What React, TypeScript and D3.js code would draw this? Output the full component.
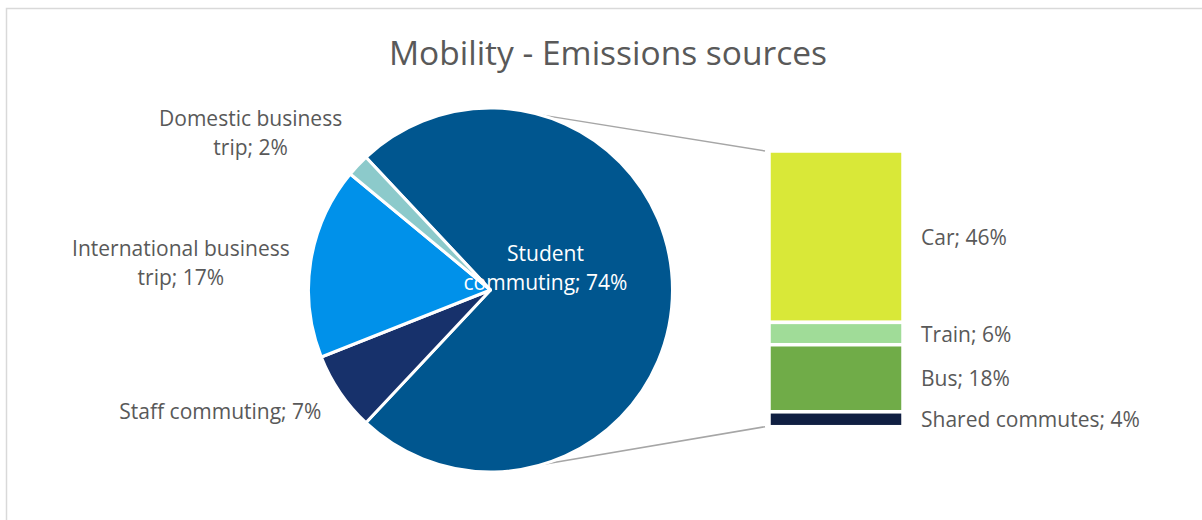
import React from "react";
import * as d3 from "d3";

// ---- data ----
const pieCategories = ["Student commuting", "Staff commuting", "International business trip", "Domestic business trip"];
const pieValues = [74, 7, 17, 2];
const pieColors = ["#00568F", "#17316B", "#0091EA", "#8CCACB"];

const barCategories = ["Car", "Train", "Bus", "Shared commutes"];
const barValues = [46, 6, 18, 4];
const barColors = ["#D9E838", "#A0DC98", "#70AC48", "#101F42"];

const title = "Mobility - Emissions sources";

// label line splits (text layout)
const pieLabelLines = [
  ["Student", "commuting; 74%"],
  ["Staff commuting; 7%"],
  ["International business", "trip; 17%"],
  ["Domestic business", "trip; 2%"],
];

// ---- layout ----
const W = 1202;
const H = 520;
const cx = 490.5;
const cy = 290;
const R = 182;
const barX0 = 769;
const barX1 = 903;
const barTop = 151;
const barBottom = 426.7;
const FONT = "'Open Sans', sans-serif";
const TEXT = "#595959";
const LINE_H = 29;
// offsets of outside labels relative to their anchor on an outer ring
const labelOffsets = [
  [55, 0],
  [-108, 19],
  [-116, 26],
  [-97, -1],
];
const connectorAngles = [15.5, 163.5]; // degrees clockwise from top

export default function App() {
  const total = d3.sum(pieValues);
  const studentShare = pieValues[0] / total;
  const start = Math.PI / 2 - studentShare * Math.PI;
  const pie = d3
    .pie<number>()
    .sort(null)
    .value((d) => d)
    .startAngle(start)
    .endAngle(start + 2 * Math.PI);
  const arcs = pie(pieValues);
  const arc = d3.arc<d3.PieArcDatum<number>>().innerRadius(0).outerRadius(R);

  const y = d3.scaleLinear().domain([0, d3.sum(barValues)]).range([barTop, barBottom]);
  let cum = 0;
  const segs = barValues.map((v, i) => {
    const s = { i, y0: y(cum), y1: y(cum + v) };
    cum += v;
    return s;
  });

  const pt = (deg: number, r: number) => {
    const a = (deg * Math.PI) / 180;
    return [cx + r * Math.sin(a), cy - r * Math.cos(a)];
  };

  const conn = [
    [pt(connectorAngles[0], R), [barX0 - 4, barTop]],
    [pt(connectorAngles[1], R), [barX0 - 4, barBottom]],
  ];

  return (
    <svg
      width={W}
      height={H}
      style={{ position: "absolute", left: 0, top: 0, background: "#fff" }}
      fontFamily={FONT}
    >
      <rect x={6.5} y={8.5} width={W + 10} height={H + 10} fill="#fff" stroke="#D9D9D9" strokeWidth={1.5} />
      <text x={608} y={65} textAnchor="middle" fontSize={33.5} fill={TEXT}>
        {title}
      </text>

      {conn.map((c, i) => (
        <line key={i} x1={c[0][0]} y1={c[0][1]} x2={c[1][0]} y2={c[1][1]} stroke="#A6A6A6" strokeWidth={1.5} />
      ))}

      <g transform={`translate(${cx},${cy})`}>
        {arcs.map((a, i) => (
          <path key={i} d={arc(a) || ""} fill={pieColors[i]} stroke="#fff" strokeWidth={3} strokeLinejoin="round" />
        ))}
      </g>

      {arcs.map((a, i) => {
        const mid = (a.startAngle + a.endAngle) / 2;
        const ringR = i === 0 ? 0 : R + 14;
        const ax = cx + ringR * Math.sin(mid) + labelOffsets[i][0];
        const ay = cy - ringR * Math.cos(mid) + labelOffsets[i][1];
        const lines = pieLabelLines[i];
        return (
          <text
            key={"l" + i}
            x={ax}
            y={ay}
            textAnchor="middle"
            fontSize={21}
            fill={i === 0 ? "#fff" : TEXT}
          >
            {lines.map((ln, j) => (
              <tspan key={j} x={ax} y={ay - (lines.length - 1 - j) * LINE_H}>
                {ln}
              </tspan>
            ))}
          </text>
        );
      })}

      {segs.map((s) => (
        <g key={"b" + s.i}>
          <rect
            x={barX0}
            y={s.y0}
            width={barX1 - barX0}
            height={s.y1 - s.y0}
            fill={barColors[s.i]}
            stroke="#fff"
            strokeWidth={3.5}
          />
          <text x={921} y={(s.y0 + s.y1) / 2 + 8} fontSize={21} fill={TEXT}>
            {`${barCategories[s.i]}; ${barValues[s.i]}%`}
          </text>
        </g>
      ))}
    </svg>
  );
}
